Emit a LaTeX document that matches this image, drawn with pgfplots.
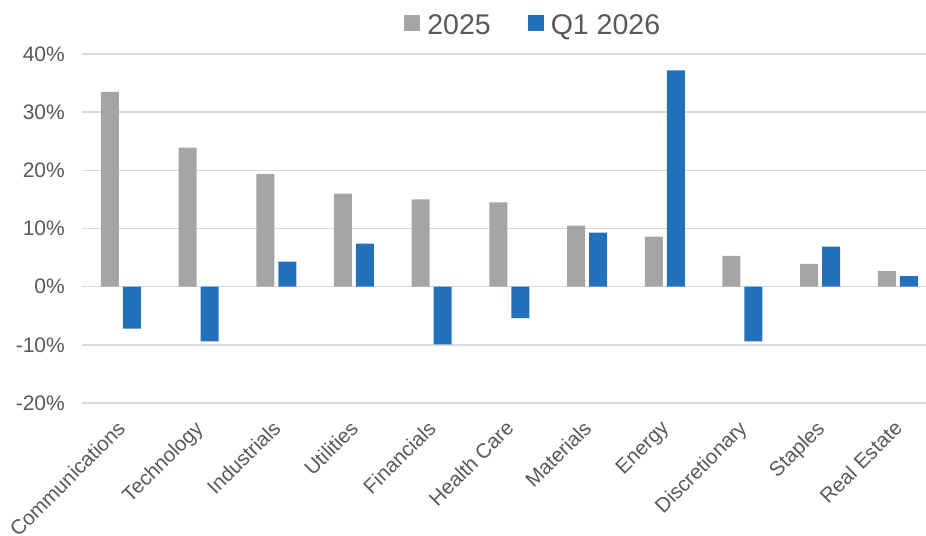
\documentclass[border=0pt]{standalone}
\usepackage{pgfplots}
\pgfplotsset{compat=1.18}
\usepackage{fontspec}
\setmainfont{Liberation Sans}
\definecolor{cgray}{HTML}{A5A5A5}
\definecolor{cblue}{HTML}{2271BA}
\definecolor{ctext}{HTML}{595959}
\definecolor{cgrid}{HTML}{D9D9D9}
\begin{document}
\begin{tikzpicture}
\useasboundingbox (0,0) rectangle (926bp,536bp);
\begin{axis}[
  at={(82bp,133bp)}, anchor=south west,
  scale only axis, width=844bp, height=349bp,
  xmin=-0.5, xmax=10.362,
  ymin=-20, ymax=40,
  ytick={-20,-10,0,10,20,30,40},
  yticklabels={-20\%,-10\%,0\%,10\%,20\%,30\%,40\%},
  xtick={0,...,10},
  xticklabels={Communications,Technology,Industrials,Utilities,Financials,Health Care,Materials,Energy,Discretionary,Staples,Real Estate},
  axis line style={draw=none},
  major tick length=0pt,
  ymajorgrids, grid style={cgrid, line width=1.6bp},
  yticklabel style={font=\fontsize{21bp}{24bp}\selectfont, text=ctext, anchor=east, inner sep=0pt, xshift=-17bp},
  xticklabel style={font=\fontsize{20.5bp}{23bp}\selectfont, text=ctext, inner sep=0pt, xshift=-5bp, yshift=-16bp, rotate=45, anchor=north east},
  legend style={draw=none, fill=none, at={(0.5335,1.083)}, anchor=center,
    font=\fontsize{28.5bp}{32bp}\selectfont, text=ctext, inner sep=0pt,
    nodes={inner sep=0pt},
    /tikz/every even column/.append style={column sep=37bp},
    /tikz/every odd column/.append style={column sep=7bp}},
  legend columns=2,
  clip=false,
]
\addplot[ybar, bar width=18bp, bar shift=-11bp, fill=cgray, draw=none,
  legend image code/.code={\fill[cgray] (0bp,-6bp) rectangle (16bp,10bp);}]
  coordinates {(0,33.5) (1,23.9) (2,19.4) (3,16.0) (4,15.0) (5,14.5) (6,10.5) (7,8.6) (8,5.3) (9,3.9) (10,2.7)};
\addlegendentry{2025}
\addplot[ybar, bar width=18bp, bar shift=11bp, fill=cblue, draw=none,
  legend image code/.code={\fill[cblue] (0bp,-6bp) rectangle (16bp,10bp);}]
  coordinates {(0,-7.2) (1,-9.4) (2,4.3) (3,7.4) (4,-9.9) (5,-5.4) (6,9.3) (7,37.2) (8,-9.4) (9,6.9) (10,1.8)};
\addlegendentry{Q1 2026}
\end{axis}
\end{tikzpicture}
\end{document}
